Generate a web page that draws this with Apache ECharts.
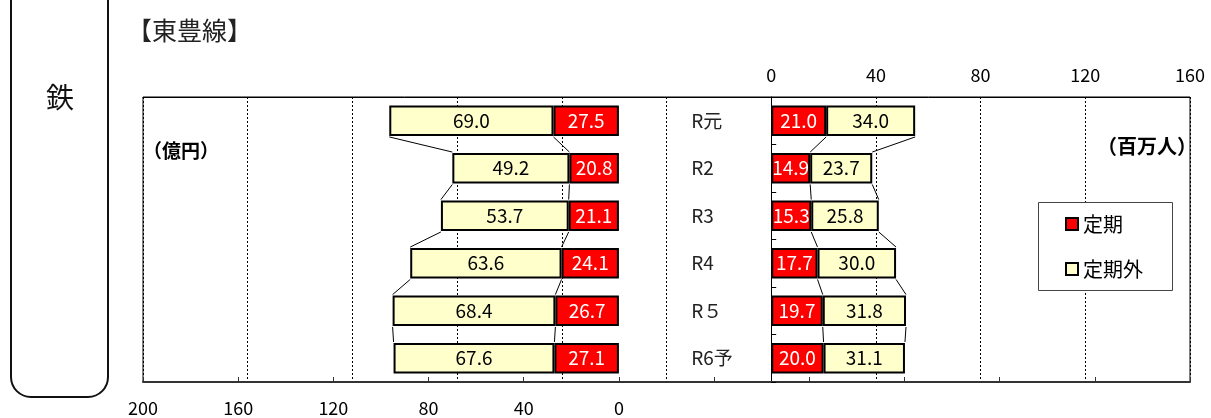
<!DOCTYPE html>
<html>
<head>
<meta charset="utf-8">
<script src="https://cdn.jsdelivr.net/npm/echarts@6/dist/echarts.min.js"></script>
<style>
  html, body { margin: 0; padding: 0; background: #fff; }
  #chart { width: 1211px; height: 418px; }
</style>
</head>
<body>
<div id="chart"></div>
<script>
// ---- data ----
const categories = ['R元', 'R2', 'R3', 'R4', 'R５', 'R6予'];
const revenueTeiki = [27.5, 20.8, 21.1, 24.1, 26.7, 27.1];      // 億円 定期
const revenueTeikigai = [69.0, 49.2, 53.7, 63.6, 68.4, 67.6];   // 億円 定期外
const paxTeiki = [21.0, 14.9, 15.3, 17.7, 19.7, 20.0];          // 百万人 定期
const paxTeikigai = [34.0, 23.7, 25.8, 30.0, 31.8, 31.1];       // 百万人 定期外
const seriesNames = ['定期', '定期外'];
const titleText = '【東豊線】';
const sideText = '鉄';
const leftUnit = '（億円）';
const rightUnit = '（百万人）';

const FONT = '"Noto Sans CJK JP", "Noto Sans", sans-serif';
const RED = '#ff0000';
const CREAM = '#ffffcc';

const chart = echarts.init(document.getElementById('chart'), null, { renderer: 'canvas' });

const GRID_LEFT = 143, GRID_RIGHT_X = 1190, GRID_TOP = 97, GRID_BOTTOM_Y = 382;
const gridWidth = GRID_RIGHT_X - GRID_LEFT;
// top axis spans -240..160, zero position:
const zeroTopX = GRID_LEFT + (0 - (-240)) / (160 - (-240)) * gridWidth;

function connectorData(a, b) {
  const out = [];
  for (let i = 0; i < a.length - 1; i++) {
    out.push([a[i], i, a[i + 1], a[i] + b[i], a[i + 1] + b[i + 1]]);
  }
  return out;
}

function renderConnector(params, api) {
  const i = api.value(1);
  const band = api.size([0, 1])[1];
  const half = band * 0.32 + 1;
  const p1 = api.coord([api.value(0), i]);
  const p2 = api.coord([api.value(2), i + 1]);
  const q1 = api.coord([api.value(3), i]);
  const q2 = api.coord([api.value(4), i + 1]);
  const st = { stroke: '#000', lineWidth: 1 };
  return {
    type: 'group',
    children: [
      { type: 'line', shape: { x1: p1[0], y1: p1[1] + half, x2: p2[0], y2: p2[1] - half }, style: st },
      { type: 'line', shape: { x1: q1[0], y1: q1[1] + half, x2: q2[0], y2: q2[1] - half }, style: st }
    ]
  };
}

function barSeries(name, data, axisIdx, color, labelColor) {
  return {
    name: name,
    type: 'bar',
    stack: 'side' + axisIdx,
    xAxisIndex: axisIdx,
    yAxisIndex: 0,
    data: data,
    barWidth: '64%',
    barGap: '-100%',
    itemStyle: { color: color, borderColor: '#000', borderWidth: 2 },
    label: {
      show: true,
      position: 'inside',
      color: labelColor,
      fontFamily: FONT,
      fontSize: 19,
      formatter: p => Number(p.value).toFixed(1)
    },
    emphasis: { disabled: true },
    z: 3
  };
}

const option = {
  animation: false,
  backgroundColor: '#fff',
  textStyle: { fontFamily: FONT },
  grid: {
    left: GRID_LEFT, top: GRID_TOP,
    width: gridWidth, height: GRID_BOTTOM_Y - GRID_TOP,
    show: true, borderColor: '#000', borderWidth: 1, backgroundColor: 'transparent'
  },
  legend: {
    data: seriesNames,
    orient: 'vertical',
    left: 1060, top: 209,
    itemWidth: 12, itemHeight: 12, itemGap: 25,
    icon: 'rect',
    itemStyle: { borderColor: '#000', borderWidth: 2 },
    textStyle: { fontFamily: FONT, fontSize: 20, color: '#000', lineHeight: 20 },
    selectedMode: false,
    z: 10
  },
  xAxis: [
    {
      type: 'value', position: 'bottom', inverse: true,
      min: -240, max: 200, interval: 40,
      axisLine: { show: true, lineStyle: { color: '#333', width: 2 } },
      axisTick: { show: true, inside: true, length: 5, lineStyle: { color: '#333' } },
      axisLabel: { margin: 17, color: '#000', fontSize: 18, fontFamily: FONT,
        formatter: v => (v >= 0 ? String(v) : '') },
      splitLine: { show: false }
    },
    {
      type: 'value', position: 'top',
      min: -240, max: 160, interval: 40,
      axisLine: { show: true, lineStyle: { color: '#000', width: 1 } },
      axisTick: { show: false },
      axisLabel: { margin: 13, color: '#000', fontSize: 18, fontFamily: FONT,
        formatter: v => (v >= 0 ? String(v) : '') },
      splitLine: { show: true, lineStyle: { color: '#000', width: 1, type: [2, 2] } }
    }
  ],
  yAxis: [
    {
      type: 'category', data: categories, inverse: true,
      position: 'left', offset: -(zeroTopX - GRID_LEFT),
      axisLine: { show: true, onZero: false, lineStyle: { color: '#000', width: 1 } },
      axisTick: { show: true, inside: true, length: 5, lineStyle: { color: '#000' } },
      axisLabel: { align: 'left', margin: 80, color: '#222', fontSize: 19, fontFamily: FONT },
      splitLine: { show: false }
    }
  ],
  series: [
    barSeries(seriesNames[0], revenueTeiki, 0, RED, '#fff'),
    barSeries(seriesNames[1], revenueTeikigai, 0, CREAM, '#000'),
    barSeries(seriesNames[0], paxTeiki, 1, RED, '#fff'),
    barSeries(seriesNames[1], paxTeikigai, 1, CREAM, '#000'),
    {
      type: 'custom', xAxisIndex: 0, yAxisIndex: 0,
      renderItem: renderConnector,
      data: connectorData(revenueTeiki, revenueTeikigai),
      encode: { x: 0, y: 1 }, silent: true, z: 2
    },
    {
      type: 'custom', xAxisIndex: 1, yAxisIndex: 0,
      renderItem: renderConnector,
      data: connectorData(paxTeiki, paxTeikigai),
      encode: { x: 0, y: 1 }, silent: true, z: 2
    }
  ],
  graphic: [
    {
      type: 'rect', silent: true, z: 0,
      shape: { x: 11, y: -30, width: 97, height: 427, r: [0, 0, 20, 20] },
      style: { fill: 'none', stroke: '#111', lineWidth: 2 }
    },
    {
      type: 'text', silent: true,
      style: { x: 60, y: 97, text: sideText, fontSize: 28, fontFamily: FONT, fill: '#111',
        textAlign: 'center', textVerticalAlign: 'middle' }
    },
    {
      type: 'text', silent: true,
      style: { x: 127, y: 30, text: titleText, fontSize: 25, fontFamily: FONT, fill: '#222',
        textAlign: 'left', textVerticalAlign: 'middle' }
    },
    {
      type: 'text', silent: true,
      style: { x: 143, y: 151, text: leftUnit, fontSize: 19, fontWeight: 'bold', fontFamily: FONT, fill: '#000',
        textAlign: 'left', textVerticalAlign: 'middle' }
    },
    {
      type: 'text', silent: true,
      style: { x: 1197, y: 146, text: rightUnit, fontSize: 20, fontWeight: 'bold', fontFamily: FONT, fill: '#000',
        textAlign: 'right', textVerticalAlign: 'middle' }
    },
    {
      type: 'rect', silent: true, z: 5,
      shape: { x: 1038.5, y: 202.5, width: 134, height: 88 },
      style: { fill: '#fff', stroke: '#444', lineWidth: 1 }
    }
  ]
};

chart.setOption(option);
</script>
</body>
</html>
